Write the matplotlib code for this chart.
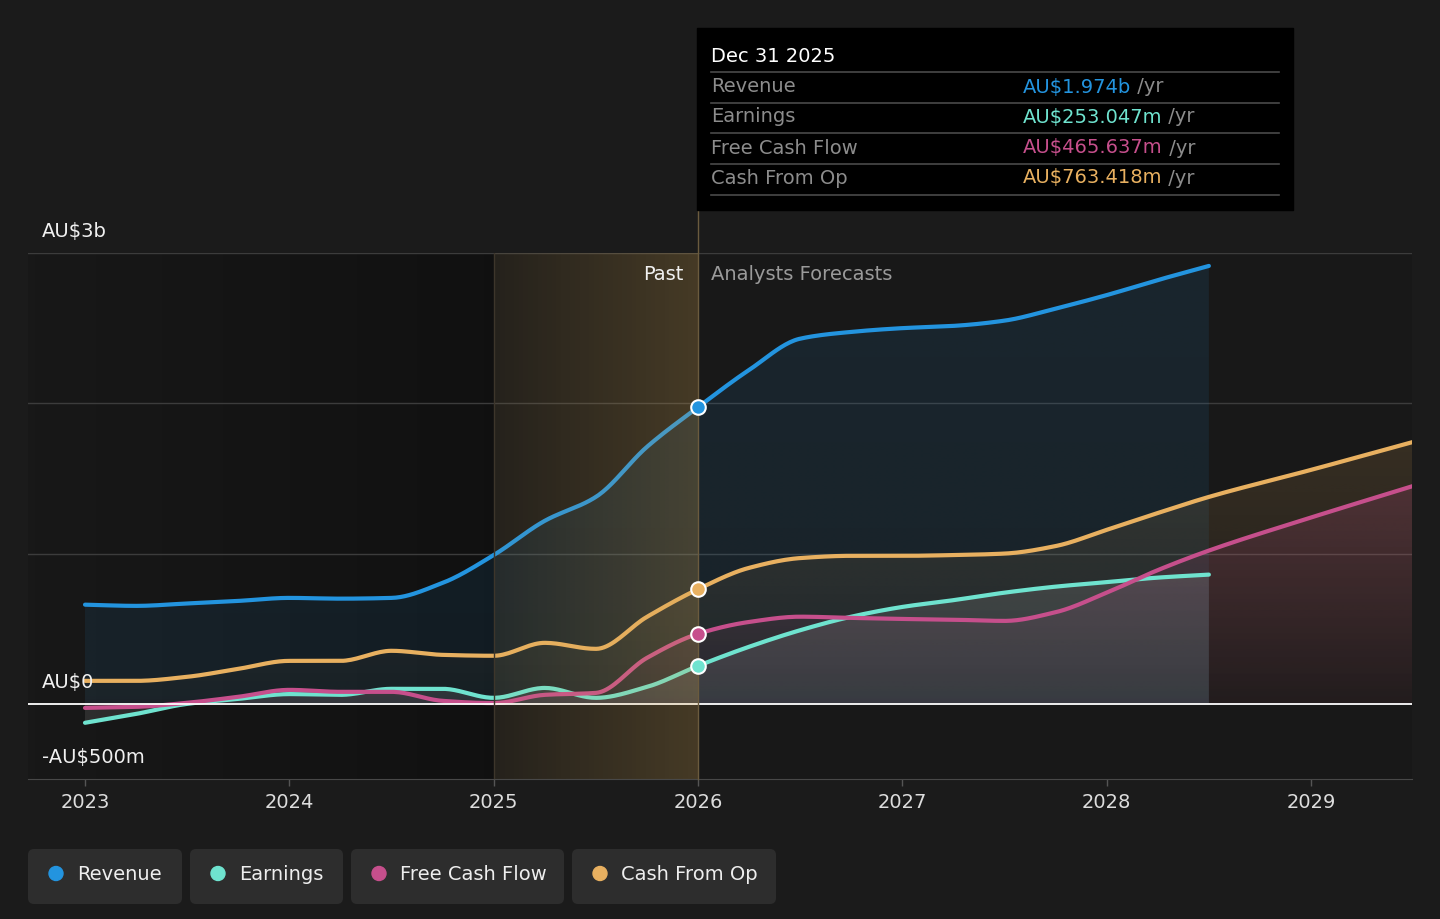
import numpy as np
import matplotlib.pyplot as plt
from matplotlib.patches import Rectangle, FancyBboxPatch, Circle
from matplotlib.colors import to_rgb
import matplotlib.transforms as mtransforms

# values in AU$ billions
past_years = [2023.0, 2023.25, 2023.5, 2023.75, 2024.0, 2024.25, 2024.5,
              2024.75, 2025.0, 2025.25, 2025.5, 2025.75, 2026.0]
revenue_past = [0.66, 0.652, 0.668, 0.685, 0.705, 0.70, 0.705, 0.805, 0.99, 1.218, 1.377, 1.71, 1.974]
earnings_past = [-0.126, -0.067, 0.0, 0.033, 0.065, 0.06, 0.10, 0.10, 0.04, 0.106, 0.04, 0.113, 0.253]
fcf_past = [-0.027, -0.02, 0.007, 0.047, 0.093, 0.08, 0.08, 0.02, 0.005, 0.06, 0.073, 0.306, 0.466]
cfo_past = [0.153, 0.153, 0.18, 0.233, 0.286, 0.286, 0.353, 0.326, 0.32, 0.406, 0.366, 0.579, 0.763]

fcst_years = [2026.0, 2026.25, 2026.5, 2026.75, 2027.0, 2027.25, 2027.5,
              2027.75, 2028.0, 2028.25, 2028.5]
ext_years = fcst_years + [2029.0, 2029.5]
revenue_fcst = [1.974, 2.222, 2.43, 2.475, 2.50, 2.515, 2.55, 2.63, 2.72, 2.82, 2.914]
earnings_fcst = [0.253, 0.38, 0.49, 0.58, 0.645, 0.69, 0.74, 0.78, 0.81, 0.84, 0.86]
fcf_fcst = [0.466, 0.545, 0.58, 0.572, 0.565, 0.56, 0.552, 0.61, 0.74, 0.89, 1.02, 1.24, 1.45]
cfo_fcst = [0.763, 0.905, 0.97, 0.985, 0.985, 0.99, 1.0, 1.05, 1.158, 1.27, 1.377, 1.557, 1.743]

names = ["Revenue", "Earnings", "Free Cash Flow", "Cash From Op"]
colors = ["#2394df", "#6fe3cf", "#c64f8c", "#e8b060"]
tip_values = ["AU$1.974b", "AU$253.047m", "AU$465.637m", "AU$763.418m"]

y_ticks = [3.0, 0.0, -0.5]
y_labels = ["AU$3b", "AU$0", "-AU$500m"]
x_ticks = [2023, 2024, 2025, 2026, 2027, 2028, 2029]

BG = "#1b1b1b"
W, H = 1440, 919
FS = 14


def pchip(x, y, n=500):
    # monotone cubic, only used to draw smooth curves through the points
    x = np.asarray(x, float)
    y = np.asarray(y, float)
    h = np.diff(x)
    d = np.diff(y) / h
    m = np.zeros_like(y)
    m[0], m[-1] = d[0], d[-1]
    for k in range(1, len(x) - 1):
        if d[k - 1] * d[k] > 0:
            w1 = 2 * h[k] + h[k - 1]
            w2 = h[k] + 2 * h[k - 1]
            m[k] = (w1 + w2) / (w1 / d[k - 1] + w2 / d[k])
    xs = np.linspace(x[0], x[-1], n)
    i = np.clip(np.searchsorted(x, xs) - 1, 0, len(h) - 1)
    t = (xs - x[i]) / h[i]
    ys = ((2 * t**3 - 3 * t**2 + 1) * y[i] + (t**3 - 2 * t**2 + t) * h[i] * m[i]
          + (-2 * t**3 + 3 * t**2) * y[i + 1] + (t**3 - t**2) * h[i] * m[i + 1])
    return xs, ys


def grad_fill(ax, x, y, color, a_top, a_bot, z):
    # vertical gradient under a curve, clipped to the area between curve and 0
    poly = ax.fill_between(x, 0, y, facecolor="none", lw=0)
    rgba = np.zeros((256, 2, 4))
    rgba[..., :3] = to_rgb(color)
    rgba[..., 3] = np.linspace(a_bot, a_top, 256)[:, None]
    im = ax.imshow(rgba, extent=[x[0], x[-1], min(0, y.min()), y.max()], origin="lower",
                   aspect="auto", zorder=z, interpolation="bilinear")
    im.set_clip_path(poly.get_paths()[0], transform=ax.transData)


fig = plt.figure(figsize=(W / 100, H / 100), dpi=100, facecolor=BG)
ax = fig.add_axes([28 / W, (H - 779) / H, 1384 / W, 526 / H])
ax.set_facecolor("#181818")

for s in ["top", "left", "right"]:
    ax.spines[s].set_visible(False)
ax.spines["bottom"].set_color("#484848")
ax.set_yticks([])

# darker region before 2025
grad = np.zeros((2, 256, 4))
grad[..., 3] = np.linspace(0.0, 0.3, 256)
ax.imshow(grad, extent=[2022.721, 2025.0, -0.5, 3.0], aspect="auto", zorder=0.5,
          interpolation="bilinear")

for v in (1.0, 2.0, 3.0):
    ax.axhline(v, color="#3c3c3c", lw=1, zorder=1)

series_past = [revenue_past, earnings_past, fcf_past, cfo_past]
series_fcst = [(fcst_years, revenue_fcst), (fcst_years, earnings_fcst),
               (ext_years, fcf_fcst), (ext_years, cfo_fcst)]
fill_cols = ["#2394df", "#c8c6c4", "#c64f8c", "#e8b060"]
fill_top = [0.11, 0.15, 0.19, 0.15]
fill_bot = [0.09, 0.13, 0.04, 0.02]
fill_order = [0, 3, 2, 1]

curves = []
for k in range(4):
    fx, fy = series_fcst[k]
    curves.append(pchip(past_years + fx[1:], series_past[k] + fy[1:]))

for j, k in enumerate(fill_order):
    sx, sy = curves[k]
    grad_fill(ax, sx, sy, fill_cols[k], fill_top[k], fill_bot[k], 2 + 0.1 * j)
for k in range(4):
    sx, sy = curves[k]
    ax.plot(sx, sy, color=colors[k], lw=3, solid_capstyle="round", zorder=3)

ax.axhline(0, color="white", lw=1.3, zorder=3.5)

# past highlight band, over the lines
band = np.zeros((2, 256, 4))
band[..., 0], band[..., 1], band[..., 2] = 0.85, 0.66, 0.32
band[..., 3] = np.linspace(0.07, 0.24, 256)
ax.imshow(band, extent=[2025.0, 2026.0, -0.5, 3.0], aspect="auto", zorder=4,
          interpolation="bilinear")
ax.axvline(2025.0, color="#3d362b", lw=1, zorder=4.2)
ax.plot([2026.0, 2026.0], [-0.5, 3.287], color="#6b5b3e", lw=1, zorder=4.2,
        clip_on=False)

for k in range(4):
    ax.scatter([2026.0], [series_past[k][-1]], s=110, color=colors[k],
               edgecolors="white", linewidths=1.5, zorder=6)

ax.set_xlim(2022.721, 2029.494)
ax.set_ylim(-0.5, 3.0)
ax.set_xticks(x_ticks)
ax.set_xticklabels([str(x) for x in x_ticks])
ax.tick_params(axis="x", colors="#555555", length=5, width=1, pad=5,
               labelcolor="#dddddd", labelsize=FS)

lab_tr = mtransforms.blended_transform_factory(ax.transAxes, ax.transData)
for v, lab in zip(y_ticks, y_labels):
    ax.text(0.0101, v, lab, transform=mtransforms.offset_copy(lab_tr, fig=fig, y=21, units="dots"),
            color="#f0f0f0", fontsize=FS, va="center", ha="left", zorder=7)

ax.text(2026.0, 3.0, "Past", transform=mtransforms.offset_copy(ax.transData, fig=fig, x=-15, y=-21, units="dots"),
        color="#f0f0f0", fontsize=FS, va="center", ha="right", zorder=7)
ax.text(2026.0, 3.0, "Analysts Forecasts",
        transform=mtransforms.offset_copy(ax.transData, fig=fig, x=13, y=-21, units="dots"),
        color="#9a9a9a", fontsize=FS, va="center", ha="left", zorder=7)

# overlay in pixel coordinates for tooltip and legend
ov = fig.add_axes([0, 0, 1, 1], zorder=10)
ov.set_xlim(0, W)
ov.set_ylim(H, 0)
ov.axis("off")

ov.add_patch(Rectangle((697, 28), 596, 182, color="#000000", zorder=1))
ov.text(711, 56, "Dec 31 2025", color="white", fontsize=FS, va="center", ha="left", zorder=2)
for yy in (72, 103, 133, 164, 195):
    ov.plot([711, 1279], [yy, yy], color="#4a4a4a", lw=1.2, zorder=2)

renderer = fig.canvas.get_renderer()
row_y = [87, 117, 148, 178]
for k in range(4):
    ov.text(711, row_y[k], names[k], color="#8c8c8c", fontsize=FS, va="center", ha="left", zorder=2)
    t = ov.text(1023, row_y[k], tip_values[k], color=colors[k], fontsize=FS,
                va="center", ha="left", zorder=2)
    bb = t.get_window_extent(renderer)
    x1 = ov.transData.inverted().transform((bb.x1, bb.y0))[0]
    ov.text(x1, row_y[k], " /yr", color="#8c8c8c", fontsize=FS, va="center", ha="left", zorder=2)

# legend chips
box_x = [28, 190, 351, 572]
box_w = [154, 153, 213, 204]
for k in range(4):
    ov.add_patch(FancyBboxPatch((box_x[k], 849), box_w[k], 55,
                                boxstyle="round,pad=0,rounding_size=6",
                                facecolor="#2d2d2d", edgecolor="none", zorder=1))
    ov.add_patch(Circle((box_x[k] + 28, 873.5), 7, color=colors[k], zorder=2))
    ov.text(box_x[k] + 49, 874, names[k], color="#eeeeee", fontsize=FS,
            va="center", ha="left", zorder=2)

fig.savefig("out.png", dpi=100, facecolor=BG)
